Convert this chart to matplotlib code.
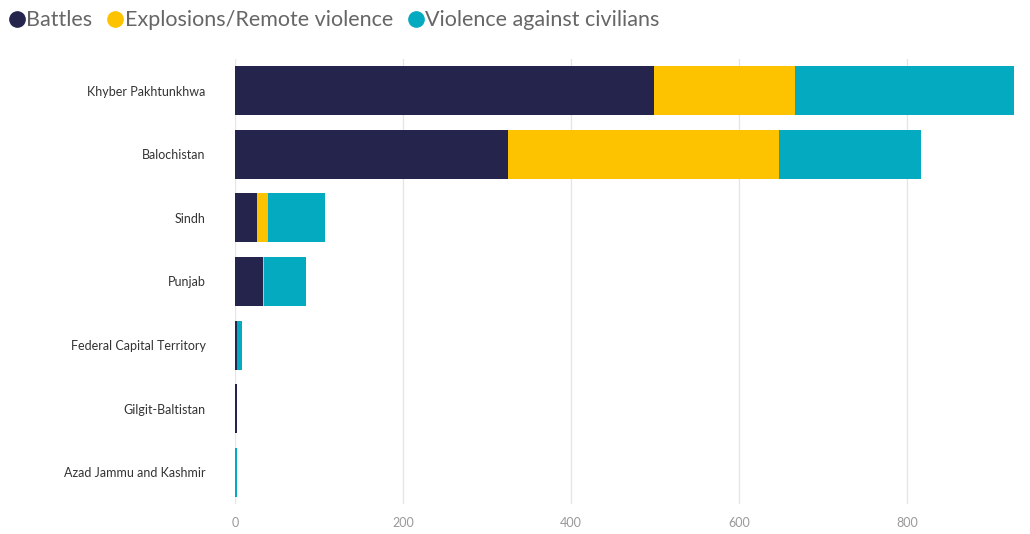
import matplotlib
matplotlib.use('Agg')
import matplotlib.pyplot as plt
from matplotlib.lines import Line2D

plt.rcParams['font.family'] = ['Lato', 'DejaVu Sans']

regions = ['Khyber Pakhtunkhwa', 'Balochistan', 'Sindh', 'Punjab',
           'Federal Capital Territory', 'Gilgit-Baltistan', 'Azad Jammu and Kashmir']
battles = [499, 325, 26, 34, 2, 2, 0]
explosions = [168, 323, 14, 1, 0, 0, 0]
civilians = [260, 169, 67, 50, 7, 1, 2]

series = ['Battles', 'Explosions/Remote violence', 'Violence against civilians']
colors = ['#25244d', '#fdc300', '#04aabf']

fig = plt.figure(figsize=(10.3, 5.34), dpi=100)
ax = fig.add_axes([0.228, 0.056, 0.757, 0.834])

ypos = list(range(len(regions)))
left = [0] * len(regions)
for vals, name, col in zip([battles, explosions, civilians], series, colors):
    ax.barh(ypos, vals, left=left, height=0.77, color=col, label=name, zorder=2)
    left = [a + b for a, b in zip(left, vals)]

ax.set_ylim(6.5, -0.5)
ax.set_xlim(0, 928)
ax.set_xticks([0, 200, 400, 600, 800])
ax.set_yticks(ypos)
ax.set_yticklabels(regions, fontsize=9, color='#333333')
ax.tick_params(axis='x', labelsize=9, colors='#999999', length=0, pad=9)
ax.tick_params(axis='y', length=0, pad=21)
ax.grid(axis='x', color='#e6e6e6', linewidth=1, zorder=0)
for s in ax.spines.values():
    s.set_visible(False)

handles = [Line2D([], [], marker='o', linestyle='', markersize=11, color=c) for c in colors]
fig.legend(handles, series, loc='upper left', bbox_to_anchor=(-0.014, 1.017), ncol=3,
           frameon=False, fontsize=15.5, handletextpad=-0.1, columnspacing=0.5,
           labelcolor='#666666', handlelength=1.1)

fig.savefig('out.png', dpi=100)
